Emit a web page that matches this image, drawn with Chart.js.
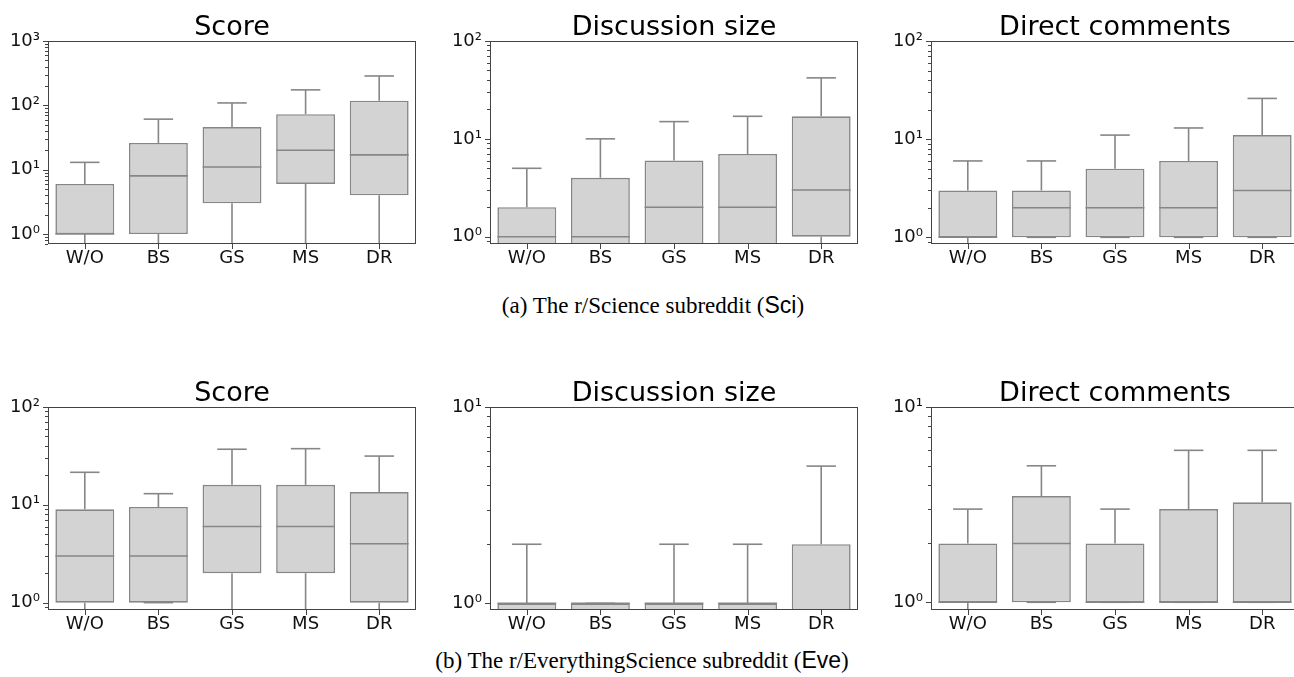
<!DOCTYPE html>
<html lang="en">
<head>
<meta charset="UTF-8">
<title>Box plots</title>
<script src="https://cdn.jsdelivr.net/npm/chart.js"></script>
<style>
  html, body { margin: 0; padding: 0; background: #fff; overflow: hidden; }
  body { width: 1294px; height: 677px; position: relative; }
  .panel { position: absolute; width: 420px; height: 274px; }
  .caption {
    position: absolute; width: 1294px; text-align: center;
    font-family: 'Liberation Serif', 'Times New Roman', serif;
    font-size: 23px; line-height: 23px; color: #000; white-space: nowrap;
  }
  .caption span { font-family: 'Liberation Sans', Arial, sans-serif; }
</style>
</head>
<body>
  <div class="panel" style="left:0px;top:0px"><canvas id="sciScore"></canvas></div>
  <div class="panel" style="left:442px;top:0px"><canvas id="sciDisc"></canvas></div>
  <div class="panel" style="left:883px;top:0px"><canvas id="sciDirect"></canvas></div>
  <div class="caption" style="left:6px;top:294px">(a) The r/Science subreddit (<span>Sci</span>)</div>

  <div class="panel" style="left:0px;top:366px"><canvas id="eveScore"></canvas></div>
  <div class="panel" style="left:442px;top:366px"><canvas id="eveDisc"></canvas></div>
  <div class="panel" style="left:883px;top:366px"><canvas id="eveDirect"></canvas></div>
  <div class="caption" style="left:-5px;top:649px">(b) The r/EverythingScience subreddit (<span>Eve</span>)</div>

<script>
  const categories = ['W/O', 'BS', 'GS', 'MS', 'DR'];

  // (a) r/Science
  const sciScoreLow  = [0, 0, 0, 0, 0];
  const sciScoreQ1   = [1, 1, 3, 6, 4];
  const sciScoreMed  = [1, 8, 11, 20, 17];
  const sciScoreQ3   = [6, 26, 46, 73, 118];
  const sciScoreHigh = [13, 61, 109, 174, 286];

  const sciDiscLow  = [0, 0, 0, 0, 0];
  const sciDiscQ1   = [0, 0, 0, 0, 1];
  const sciDiscMed  = [1, 1, 2, 2, 3];
  const sciDiscQ3   = [2, 4, 6, 7, 17];
  const sciDiscHigh = [5, 10, 15, 17, 42];

  const sciDirectLow  = [0, 1, 1, 1, 1];
  const sciDirectQ1   = [1, 1, 1, 1, 1];
  const sciDirectMed  = [1, 2, 2, 2, 3];
  const sciDirectQ3   = [3, 3, 5, 6, 11];
  const sciDirectHigh = [6, 6, 11, 13, 26];

  // (b) r/EverythingScience
  const eveScoreLow  = [0, 1, 0, 0, 0];
  const eveScoreQ1   = [1, 1, 2, 2, 1];
  const eveScoreMed  = [3, 3, 6, 6, 4];
  const eveScoreQ3   = [9, 9.5, 16, 16, 13.5];
  const eveScoreHigh = [21.5, 13, 37, 37.5, 31.5];

  const eveDiscLow  = [0, 0, 0, 0, 0];
  const eveDiscQ1   = [0, 0, 0, 0, 0];
  const eveDiscMed  = [1, 1, 1, 1, 0];
  const eveDiscQ3   = [1, 1, 1, 1, 2];
  const eveDiscHigh = [2, 1, 2, 2, 5];

  const eveDirectLow  = [0, 1, 1, 1, 1];
  const eveDirectQ1   = [1, 1, 1, 1, 1];
  const eveDirectMed  = [1, 2, 1, 1, 1];
  const eveDirectQ3   = [2, 3.5, 2, 3, 3.25];
  const eveDirectHigh = [3, 5, 3, 6, 6];

  const ticksTo1000 = [1, 10, 100, 1000];
  const ticksTo100 = [1, 10, 100];
  const ticksTo10 = [1, 10];

  const EDGE = '#868686';
  const FILL = '#d3d3d3';
  const SPINE = '#444444';
  const SUP = { '0': '\u2070', '1': '\u00b9', '2': '\u00b2', '3': '\u00b3' };

  // whiskers, medians, frame, tick marks and title
  const boxPlugin = {
    id: 'boxExtras',
    afterDatasetsDraw(chart) {
      const ctx = chart.ctx;
      const x = chart.scales.x, y = chart.scales.y;
      const area = chart.chartArea;
      const bp = chart.options.plugins.boxExtras;
      const meta = chart.getDatasetMeta(0);
      // zero values sit below the log axis, like matplotlib clips them
      const val = (v) => y.getPixelForValue(v > 0 ? v : y.min * 0.9);
      ctx.save();
      ctx.beginPath();
      ctx.rect(area.left, area.top, area.right - area.left, area.bottom - area.top);
      ctx.clip();
      ctx.strokeStyle = EDGE;
      ctx.lineWidth = 1.6;
      const line = (x1, y1, x2, y2) => {
        ctx.beginPath(); ctx.moveTo(x1, y1); ctx.lineTo(x2, y2); ctx.stroke();
      };
      categories.forEach((c, i) => {
        const cx = x.getPixelForValue(i);
        const half = meta.data[i].width / 2;
        const cap = half / 2;
        if (bp.high[i] > bp.q3[i]) {
          line(cx, val(bp.q3[i]), cx, val(bp.high[i]));
        }
        const yh = val(bp.high[i]);
        line(cx - cap, yh, cx + cap, yh);
        if (bp.low[i] < bp.q1[i]) {
          line(cx, val(bp.q1[i]), cx, val(bp.low[i]));
        }
        if (bp.low[i] > 0) {
          const yl = val(bp.low[i]);
          line(cx - cap, yl, cx + cap, yl);
        }
        const ym = val(bp.med[i]);
        line(cx - half, ym, cx + half, ym);
      });
      ctx.restore();
    },
    afterDraw(chart) {
      const ctx = chart.ctx;
      const x = chart.scales.x, y = chart.scales.y;
      const a = chart.chartArea;
      const bp = chart.options.plugins.boxExtras;
      ctx.save();
      ctx.strokeStyle = SPINE;
      ctx.lineWidth = 1;
      ctx.strokeRect(a.left + 0.5, a.top + 0.5, a.right - a.left - 1, a.bottom - a.top - 1);
      ctx.beginPath();
      categories.forEach((c, i) => {
        const px = Math.round(x.getPixelForValue(i)) + 0.5;
        ctx.moveTo(px, a.bottom); ctx.lineTo(px, a.bottom + 5);
      });
      const lo = Math.floor(Math.log10(y.min)), hi = Math.ceil(Math.log10(y.max));
      for (let k = lo; k <= hi; k++) {
        for (let m = 1; m <= 9; m++) {
          const v = m * Math.pow(10, k);
          if (v < y.min || v > y.max) continue;
          const py = Math.round(y.getPixelForValue(v)) + 0.5;
          ctx.moveTo(a.left, py); ctx.lineTo(a.left - (m === 1 ? 5 : 3), py);
        }
      }
      ctx.stroke();
      ctx.fillStyle = '#000';
      ctx.font = '27px "DejaVu Sans"';
      ctx.textAlign = 'center';
      ctx.textBaseline = 'alphabetic';
      ctx.fillText(bp.title, (a.left + a.right) / 2, a.top - 6);
      ctx.restore();
    }
  };

  function makePanel(id, title, low, q1, med, q3, high, yMin, yMax, majors) {
    new Chart(document.getElementById(id), {
      type: 'bar',
      data: {
        labels: categories,
        datasets: [{
          // a zero quartile is pushed just under the axis so its edge gets clipped
          data: q1.map((v, i) => [v > 0 ? v : yMin * 0.9, q3[i]]),
          backgroundColor: FILL,
          borderColor: EDGE,
          borderWidth: 1.6,
          borderSkipped: false,
          barPercentage: 0.8,
          categoryPercentage: 1.0,
          clip: 0
        }]
      },
      options: {
        responsive: true,
        maintainAspectRatio: false,
        animation: false,
        layout: { padding: { top: 41, right: 4, left: 0, bottom: 0 } },
        plugins: {
          legend: { display: false },
          tooltip: { enabled: false },
          boxExtras: { title, low, q1, med, q3, high }
        },
        scales: {
          x: {
            grid: { display: false, drawTicks: false },
            border: { display: false },
            ticks: { color: '#111', font: { family: 'DejaVu Sans', size: 18 }, padding: 4, maxRotation: 0 },
            afterFit: (s) => { s.height = 30; }
          },
          y: {
            type: 'logarithmic',
            min: yMin,
            max: yMax,
            grid: { display: false, drawTicks: false },
            border: { display: false },
            afterBuildTicks: (s) => { s.ticks = majors.map(v => ({ value: v, major: true })); },
            ticks: {
              autoSkip: false,
              color: '#111',
              padding: 8,
              font: { family: 'DejaVu Sans', size: 18 },
              callback: (v) => '10' + String(Math.round(Math.log10(v))).split('').map(d => SUP[d]).join('')
            },
            afterFit: (s) => { s.width = 48; }
          }
        }
      },
      plugins: [boxPlugin]
    });
  }

  makePanel('sciScore', 'Score', sciScoreLow, sciScoreQ1, sciScoreMed, sciScoreQ3, sciScoreHigh, 0.745, 1000, ticksTo1000);
  makePanel('sciDisc', 'Discussion size', sciDiscLow, sciDiscQ1, sciDiscMed, sciDiscQ3, sciDiscHigh, 0.842, 100, ticksTo100);
  makePanel('sciDirect', 'Direct comments', sciDirectLow, sciDirectQ1, sciDirectMed, sciDirectQ3, sciDirectHigh, 0.855, 100, ticksTo100);
  makePanel('eveScore', 'Score', eveScoreLow, eveScoreQ1, eveScoreMed, eveScoreQ3, eveScoreHigh, 0.841, 100, ticksTo100);
  makePanel('eveDisc', 'Discussion size', eveDiscLow, eveDiscQ1, eveDiscMed, eveDiscQ3, eveDiscHigh, 0.925, 10, ticksTo10);
  makePanel('eveDirect', 'Direct comments', eveDirectLow, eveDirectQ1, eveDirectMed, eveDirectQ3, eveDirectHigh, 0.913, 10, ticksTo10);
</script>
</body>
</html>
